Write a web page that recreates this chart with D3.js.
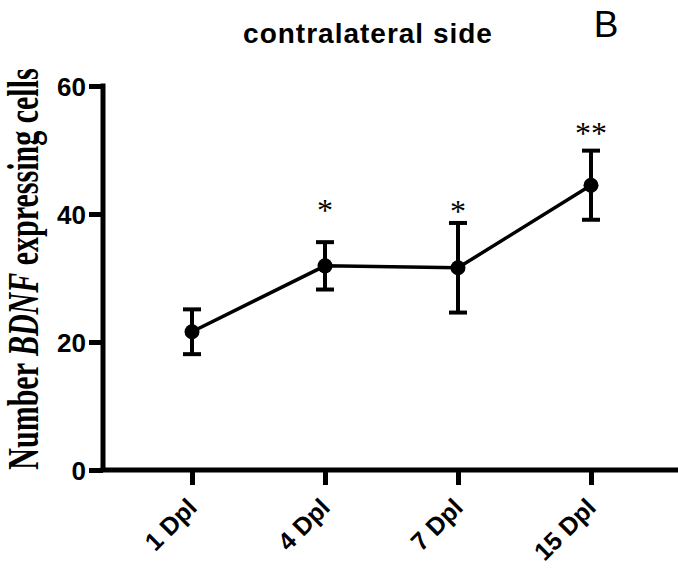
<!DOCTYPE html>
<html><head>
<meta charset="utf-8">
<title>contralateral side</title>
<style>
body { margin: 0; background: #fff; }
svg text { fill: #000; }
.axis path, .axis line { stroke: #000; stroke-width: 5px; }
.axis text { font-family: "Liberation Sans", Arial, sans-serif; font-weight: bold; }
</style>
<script src="https://d3js.org/d3.v7.min.js"></script>
</head>
<body>
<svg id="chart" width="678" height="569"></svg>
<script>
// data
const days = ["1 Dpl", "4 Dpl", "7 Dpl", "15 Dpl"];
const means = [21.6, 31.9, 31.6, 44.5];
const sems = [3.5, 3.7, 7.0, 5.4];
const stars = ["", "*", "*", "**"];
const starLevel = [0, 41.3, 41.1, 53.3];
const yTicks = [0, 20, 40, 60];

const svg = d3.select("#chart");

const x = d3.scalePoint().domain(days).range([192, 591]);
const y = d3.scaleLinear().domain([0, 60]).range([470, 86]);
const axisLeft = 103;

// y axis
const gy = svg.append("g")
    .attr("class", "axis")
    .attr("transform", "translate(" + axisLeft + ",0)")
    .call(d3.axisLeft(y).tickValues(yTicks).tickSize(14).tickSizeOuter(0).tickPadding(3));
gy.select(".domain").attr("d", "M0," + (y(60) - 2.5) + "V" + y(0));
gy.selectAll("text").style("font-size", "26px").attr("dy", "0.36em");

// x axis
const gx = svg.append("g")
    .attr("class", "axis")
    .attr("transform", "translate(0," + y(0) + ")")
    .call(d3.axisBottom(x).tickSize(15).tickSizeOuter(0));
gx.select(".domain").attr("d", "M" + (axisLeft - 2.5) + ",0H690");
gx.selectAll("text")
    .style("font-size", "25px")
    .attr("text-anchor", "end")
    .attr("dy", null)
    .attr("y", 0)
    .attr("transform", "translate(6,39) rotate(-45)");

// line
const line = d3.line().x((d, i) => x(days[i])).y(d => y(d));
svg.append("path")
    .datum(means)
    .attr("d", line)
    .attr("fill", "none")
    .attr("stroke", "#000")
    .attr("stroke-width", 3.5);

// error bars
const eb = svg.append("g").attr("stroke", "#000").attr("stroke-width", 4);
means.forEach((m, i) => {
    const cx = x(days[i]);
    eb.append("line").attr("x1", cx).attr("x2", cx)
        .attr("y1", y(m + sems[i])).attr("y2", y(m - sems[i]));
    [m + sems[i], m - sems[i]].forEach(v => {
        eb.append("line").attr("x1", cx - 9).attr("x2", cx + 9)
            .attr("y1", y(v)).attr("y2", y(v));
    });
});

// points
svg.append("g").selectAll("circle")
    .data(means)
    .join("circle")
    .attr("cx", (d, i) => x(days[i]))
    .attr("cy", d => y(d))
    .attr("r", 7.5)
    .attr("fill", "#000");

// significance stars
svg.append("g").selectAll("text")
    .data(stars)
    .join("text")
    .attr("x", (d, i) => x(days[i]))
    .attr("y", (d, i) => y(starLevel[i]) + 15)
    .attr("text-anchor", "middle")
    .style("font-family", "'Liberation Serif', 'Times New Roman', serif")
    .style("font-size", "32px")
    .text(d => d);

// title and panel letter
svg.append("text")
    .attr("x", 368).attr("y", 43)
    .attr("text-anchor", "middle")
    .style("font-family", "'Liberation Sans', Arial, sans-serif")
    .style("font-weight", "bold")
    .style("font-size", "28px")
    .style("letter-spacing", "1px")
    .text("contralateral side");

svg.append("text")
    .attr("x", 606).attr("y", 37)
    .attr("text-anchor", "middle")
    .style("font-family", "'Liberation Sans', Arial, sans-serif")
    .style("font-size", "37px")
    .text("B");

// y axis label (stretched across, as in the figure)
const yl = svg.append("text")
    .attr("transform", "translate(38,269) scale(1.45,1) rotate(-90)")
    .attr("text-anchor", "middle")
    .style("font-family", "'Liberation Serif', 'Times New Roman', serif")
    .style("font-weight", "bold")
    .style("font-size", "30px");
yl.append("tspan").text("Number ");
yl.append("tspan").style("font-style", "italic").text("BDNF");
yl.append("tspan").text(" expressing cells");
</script>
</body></html>
